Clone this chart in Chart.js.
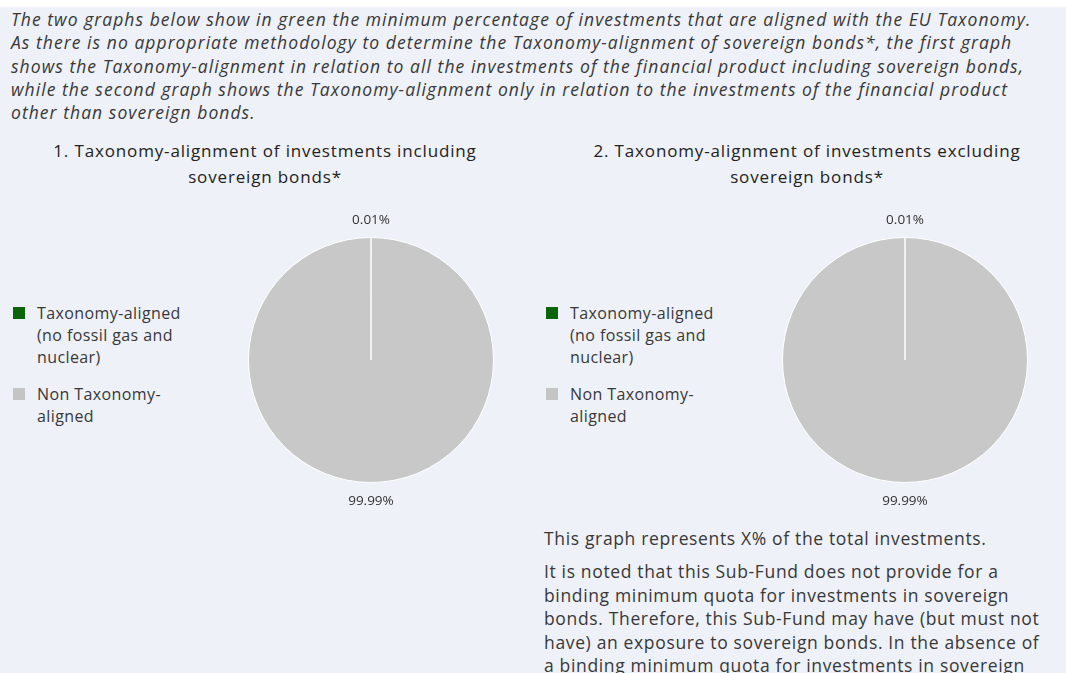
<!DOCTYPE html>
<html>
<head>
<meta charset="utf-8">
<script src="https://cdn.jsdelivr.net/npm/chart.js@4/dist/chart.umd.min.js"></script>
<style>
    html, body { margin: 0; padding: 0; background: #fff; }
    body { width: 1066px; height: 673px; overflow: hidden; position: relative; font-family: "Open Sans", sans-serif; color: #383838; }
    .panel { position: absolute; left: 0; top: 7px; width: 1066px; height: 666px; background: #EEF1F8; }
    .intro { position: absolute; left: 11px; top: 8px; font-size: 17.5px; font-style: italic; line-height: 23.3px; letter-spacing: 1.05px; white-space: nowrap; }
    .title { position: absolute; width: 540px; text-align: center; font-size: 17px; line-height: 26px; letter-spacing: 0.85px; color: #222; }
    .legend { position: absolute; font-size: 16px; line-height: 22px; letter-spacing: 0.4px; }
    .legend .item { position: relative; padding-left: 24px; margin-bottom: 15px; }
    .legend .box { position: absolute; left: 0; top: 5px; width: 12px; height: 12px; }
    .note { position: absolute; left: 544px; top: 527px; font-size: 17.5px; line-height: 23.4px; letter-spacing: 0.65px; white-space: nowrap; }
    canvas { position: absolute; }
</style>
</head>
<body>
<div class="panel"></div>
<div class="intro">The two graphs below show in green the minimum percentage of investments that are aligned with the EU Taxonomy.<br>As there is no appropriate methodology to determine the Taxonomy-alignment of sovereign bonds*, the first graph<br>shows the Taxonomy-alignment in relation to all the investments of the financial product including sovereign bonds,<br>while the second graph shows the Taxonomy-alignment only in relation to the investments of the financial product<br>other than sovereign bonds.</div>

<div class="title" style="left:-5px; top:138px;">1. Taxonomy-alignment of investments including<br>sovereign bonds*</div>
<div class="title" style="left:537px; top:138px;">2. Taxonomy-alignment of investments excluding<br>sovereign bonds*</div>

<div class="legend" id="legend1" style="left:13px; top:302px;"></div>
<div class="legend" id="legend2" style="left:546px; top:302px;"></div>

<div style="position:absolute; left:230px; top:207px; width:282px; height:308px;"><canvas id="pie1"></canvas></div>
<div style="position:absolute; left:764px; top:207px; width:282px; height:308px;"><canvas id="pie2"></canvas></div>

<div class="note">This graph represents X% of the total investments.<br><div style="height:10px"></div>It is noted that this Sub-Fund does not provide for a<br>binding minimum quota for investments in sovereign<br>bonds. Therefore, this Sub-Fund may have (but must not<br>have) an exposure to sovereign bonds. In the absence of<br>a binding minimum quota for investments in sovereign</div>

<script>
// categories and values
const categories = ['Taxonomy-aligned (no fossil gas and nuclear)', 'Non Taxonomy-aligned']
const legendLines = [['Taxonomy-aligned', '(no fossil gas and', 'nuclear)'], ['Non Taxonomy-', 'aligned']]
const includingSovereign = [0.01, 99.99]
const excludingSovereign = [0.01, 99.99]
const sliceColors = ['#0A640A', '#C8C8C8']
const legendColors = ['#0A640A', '#C4C4C4']

// percentage labels just outside the pie
const outsideLabels = {
    id: 'outsideLabels',
    afterDatasetsDraw(chart) {
        const ctx = chart.ctx
        const meta = chart.getDatasetMeta(0)
        const values = chart.data.datasets[0].data
        ctx.save()
        ctx.font = '13.5px "Open Sans"'
        ctx.fillStyle = '#333'
        ctx.textAlign = 'center'
        ctx.textBaseline = 'middle'
        meta.data.forEach((arc, i) => {
            const mid = (arc.startAngle + arc.endAngle) / 2
            const r = arc.outerRadius + 18
            ctx.fillText(values[i].toFixed(2) + '%', arc.x + Math.cos(mid) * r, arc.y + Math.sin(mid) * r + 1)
        })
        ctx.restore()
    }
}

const makePie = (id, values) => {
    const ctx = document.getElementById(id).getContext('2d')
    return new Chart(ctx, {
        type: 'pie',
        data: {
            labels: categories,
            datasets: [{
                data: values,
                backgroundColor: sliceColors,
                borderColor: '#fff',
                borderWidth: 1,
            }]
        },
        options: {
            responsive: true,
            maintainAspectRatio: false,
            animation: false,
            layout: { padding: { top: 30, bottom: 32 } },
            plugins: {
                legend: { display: false },
                tooltip: { enabled: false }
            }
        },
        plugins: [outsideLabels]
    })
}

const makeLegend = (id) => {
    const el = document.getElementById(id)
    legendLines.forEach((lines, i) => {
        const item = document.createElement('div')
        item.className = 'item'
        item.innerHTML = '<span class="box" style="background:' + legendColors[i] + '"></span>' + lines.join('<br>')
        el.appendChild(item)
    })
}

makePie('pie1', includingSovereign)
makePie('pie2', excludingSovereign)
makeLegend('legend1')
makeLegend('legend2')
</script>
</body>
</html>
